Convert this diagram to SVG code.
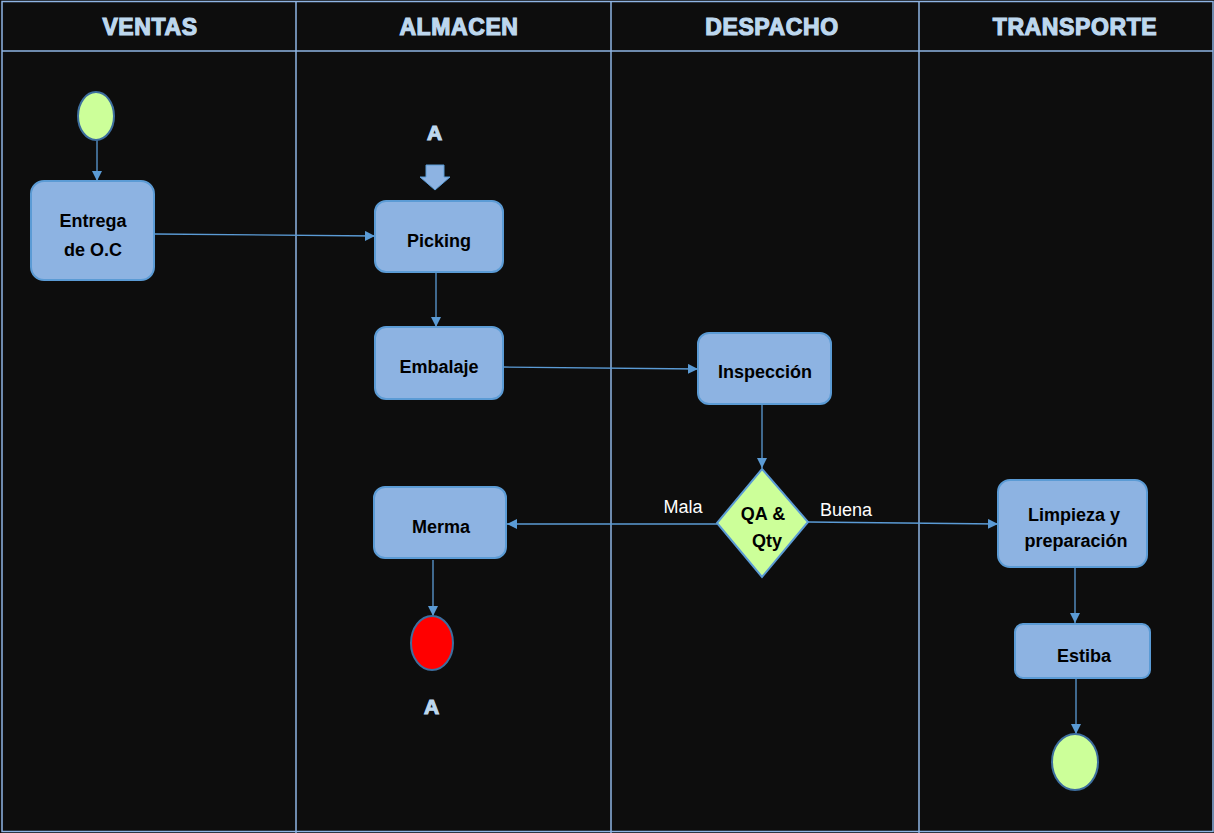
<svg xmlns="http://www.w3.org/2000/svg" width="1214" height="833" viewBox="0 0 1214 833">
<defs>
<marker id="ah" viewBox="0 0 10 10" refX="10" refY="5" markerWidth="10" markerHeight="10" markerUnits="userSpaceOnUse" orient="auto">
<path d="M0,0 L10,5 L0,10 z" fill="#5b9bd5"/>
</marker>
<style>
.lane{stroke:#8eb4e3;stroke-width:1.5;fill:none}
.hdr{font-family:"Liberation Sans",Arial,sans-serif;font-weight:bold;font-size:23px;letter-spacing:0.6px;fill:#bdd7ee;stroke:#bdd7ee;stroke-width:1.2;text-anchor:middle}
.box{fill:#8db3e2;stroke:#5b9bd5;stroke-width:2}
.t{font-family:"Liberation Sans",Arial,sans-serif;font-weight:bold;font-size:18px;fill:#000;text-anchor:middle}
.lbl{font-family:"Liberation Sans",Arial,sans-serif;font-size:18px;fill:#fff;text-anchor:middle}
.conn{stroke:#5b9bd5;stroke-width:1.3;fill:none}
.start{fill:#ccff99;stroke:#3d6e9e;stroke-width:2}
</style>
</defs>
<rect x="0" y="0" width="1214" height="833" fill="#0d0d0d"/>
<g id="lanes">
<rect class="lane" x="2" y="1.5" width="1211" height="830"/>
<line class="lane" x1="2" y1="51" x2="1213" y2="51"/>
<line class="lane" x1="296" y1="1" x2="296" y2="833"/>
<line class="lane" x1="611" y1="1" x2="611" y2="833"/>
<line class="lane" x1="919" y1="1" x2="919" y2="833"/>
<text class="hdr" x="150" y="35">VENTAS</text>
<text class="hdr" x="459" y="35">ALMACEN</text>
<text class="hdr" x="772" y="35">DESPACHO</text>
<text class="hdr" x="1075" y="35">TRANSPORTE</text>
</g>
<g id="connectors">
<line class="conn" x1="97" y1="140" x2="97" y2="181" marker-end="url(#ah)"/>
<line class="conn" x1="154" y1="234" x2="375" y2="236" marker-end="url(#ah)"/>
<line class="conn" x1="436" y1="272" x2="436" y2="327" marker-end="url(#ah)"/>
<line class="conn" x1="503" y1="367" x2="698" y2="369" marker-end="url(#ah)"/>
<line class="conn" x1="762" y1="405" x2="762" y2="468" marker-end="url(#ah)"/>
<line class="conn" x1="717" y1="524" x2="507" y2="524" marker-end="url(#ah)"/>
<line class="conn" x1="808" y1="522" x2="998" y2="524" marker-end="url(#ah)"/>
<line class="conn" x1="433" y1="560" x2="433" y2="616" marker-end="url(#ah)"/>
<line class="conn" x1="1075" y1="567" x2="1075" y2="623" marker-end="url(#ah)"/>
<line class="conn" x1="1076" y1="678" x2="1076" y2="734" marker-end="url(#ah)"/>
<text class="lbl" x="683" y="513">Mala</text>
<text class="lbl" x="846" y="516">Buena</text>
</g>
<g id="start"><ellipse class="start" cx="96" cy="116" rx="18" ry="24"/></g>
<g id="entrega"><rect class="box" x="31" y="181" width="123" height="99" rx="13"/>
<text class="t" x="93" y="227">Entrega</text><text class="t" x="93" y="256">de O.C</text></g>
<g id="connectorA">
<text class="hdr" x="435" y="140" style="font-size:21px">A</text>
<path d="M426,165 H444 V177 H450 L435,190 L420,177 H426 Z" fill="#8db3e2" stroke="#5b9bd5" stroke-width="1"/>
</g>
<g id="picking"><rect class="box" x="375" y="201" width="128" height="71" rx="11"/>
<text class="t" x="439" y="247">Picking</text></g>
<g id="embalaje"><rect class="box" x="375" y="327" width="128" height="72" rx="11"/>
<text class="t" x="439" y="373">Embalaje</text></g>
<g id="inspeccion"><rect class="box" x="698" y="333" width="133" height="71" rx="11"/>
<text class="t" x="765" y="378">Inspección</text></g>
<g id="decision"><polygon points="762,469 808,522 762,577 717,523" fill="#ccff99" stroke="#5b9bd5" stroke-width="2"/>
<text class="t" x="763" y="520">QA &amp;</text><text class="t" x="767" y="547">Qty</text></g>
<g id="merma"><rect class="box" x="374" y="487" width="132" height="71" rx="11"/>
<text class="t" x="441" y="533">Merma</text></g>
<g id="endA"><ellipse cx="432" cy="643" rx="21" ry="27" fill="#ff0000" stroke="#3d6e9e" stroke-width="2"/>
<text class="hdr" x="432" y="714" style="font-size:21px">A</text></g>
<g id="limpieza"><rect class="box" x="998" y="480" width="149" height="87" rx="12"/>
<text class="t" x="1074" y="521">Limpieza y</text><text class="t" x="1076" y="547">preparación</text></g>
<g id="estiba"><rect class="box" x="1015" y="624" width="135" height="54" rx="8"/>
<text class="t" x="1084" y="662">Estiba</text></g>
<g id="end"><ellipse class="start" cx="1075" cy="762" rx="23" ry="28"/></g>
</svg>
